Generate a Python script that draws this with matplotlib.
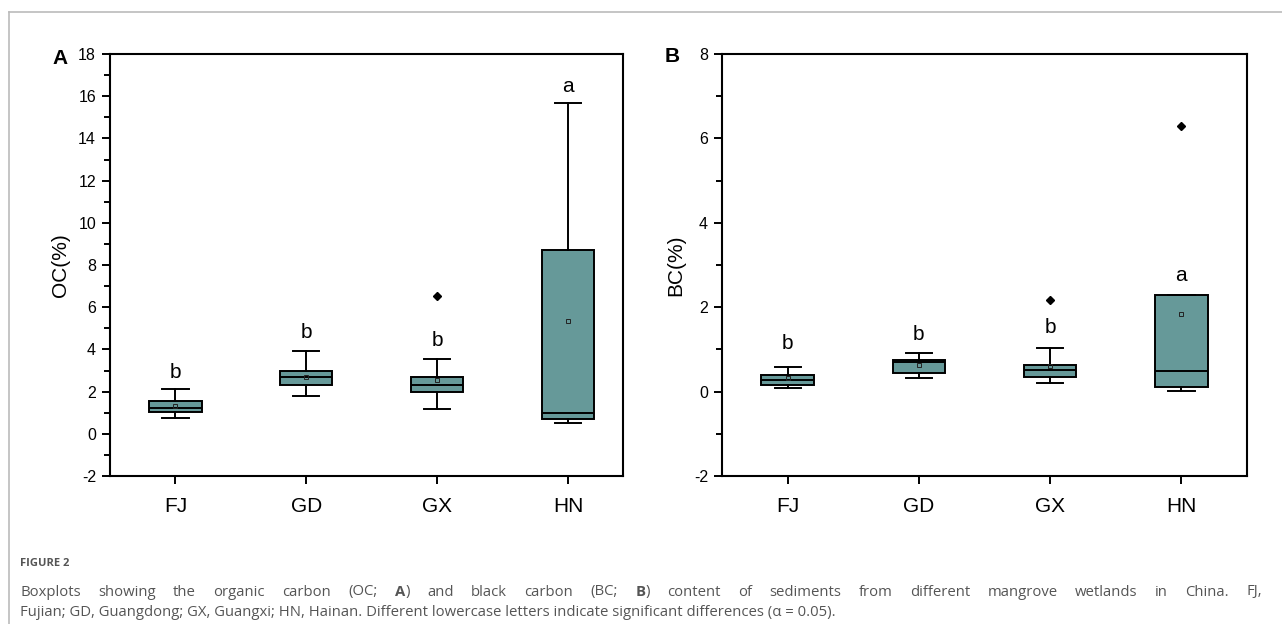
import matplotlib
matplotlib.use("Agg")
import matplotlib.pyplot as plt
from matplotlib.lines import Line2D

plt.rcParams['font.family'] = ['Liberation Sans', 'DejaVu Sans']
plt.rcParams['axes.unicode_minus'] = False  # o original usa hífen em "-2"

# dados
grupos = ['FJ', 'GD', 'GX', 'HN']
cor_caixa = '#669999'

# OC (%) - painel A
oc_min = [0.76, 1.78, 1.18, 0.52]
oc_q1 = [1.04, 2.33, 1.96, 0.71]
oc_med = [1.23, 2.68, 2.30, 0.99]
oc_q3 = [1.55, 2.98, 2.67, 8.69]
oc_max = [2.11, 3.93, 3.56, 15.68]
oc_media = [1.32, 2.70, 2.54, 5.35]
oc_outliers = [[], [], [6.53], []]
oc_letras = ['b', 'b', 'b', 'a']
oc_letras_y = [2.9, 4.8, 4.4, 16.45]

# BC (%) - painel B
bc_min = [0.08, 0.32, 0.20, 0.02]
bc_q1 = [0.16, 0.45, 0.35, 0.10]
bc_med = [0.27, 0.69, 0.52, 0.48]
bc_q3 = [0.40, 0.76, 0.62, 2.28]
bc_max = [0.59, 0.92, 1.03, 2.28]
bc_media = [0.32, 0.62, 0.60, 1.83]
bc_outliers = [[], [], [2.17], [6.29]]
bc_letras = ['b', 'b', 'b', 'a']
bc_letras_y = [1.14, 1.36, 1.51, 2.75]


def monta_stats(mn, q1, med, q3, mx, media, outl):
    stats = []
    for i in range(len(grupos)):
        stats.append(dict(whislo=mn[i], q1=q1[i], med=med[i], q3=q3[i],
                          whishi=mx[i], mean=media[i], fliers=outl[i]))
    return stats


def desenha(ax, stats, letras, letras_y, ylim, ylabel, xlim):
    ax.bxp(stats, positions=range(1, 5), widths=0.4, capwidths=0.2,
           showmeans=True, patch_artist=True,
           boxprops=dict(facecolor=cor_caixa, edgecolor='black', linewidth=1.4),
           medianprops=dict(color='black', linewidth=1.4),
           whiskerprops=dict(color='black', linewidth=1.4),
           capprops=dict(color='black', linewidth=1.4),
           meanprops=dict(marker='s', markersize=3.5, markerfacecolor='none',
                          markeredgecolor='#222222', markeredgewidth=0.7),
           flierprops=dict(marker='D', markersize=4, markerfacecolor='black',
                           markeredgecolor='black'))
    for i, (l, y) in enumerate(zip(letras, letras_y)):
        ax.text(i + 1, y, l, ha='center', va='center', fontsize=15)
    ax.set_xlim(*xlim)
    ax.set_ylim(*ylim)
    ax.set_xticks(range(1, 5))
    ax.set_xticklabels(grupos, fontsize=15)
    ax.set_yticks(range(ylim[0], ylim[1] + 1, 2))
    ax.set_yticks(range(ylim[0] + 1, ylim[1], 2), minor=True)
    ax.tick_params(axis='y', which='major', direction='out', length=6, width=1.4,
                   labelsize=11.5, pad=4)
    ax.tick_params(axis='y', which='minor', direction='out', length=4, width=1.4)
    ax.tick_params(axis='x', which='major', direction='out', length=6, width=1.4, pad=9)
    ax.set_ylabel(ylabel, fontsize=15, labelpad=6)
    for s in ax.spines.values():
        s.set_linewidth(1.5)


fig = plt.figure(figsize=(12.82, 6.24), dpi=100)
axA = fig.add_axes([110 / 1282, 148 / 624, 513 / 1282, 422 / 624])
axB = fig.add_axes([722 / 1282, 148 / 624, 525 / 1282, 422 / 624])

desenha(axA, monta_stats(oc_min, oc_q1, oc_med, oc_q3, oc_max, oc_media, oc_outliers),
        oc_letras, oc_letras_y, (-2, 18), 'OC(%)', (0.5, 4.42))
desenha(axB, monta_stats(bc_min, bc_q1, bc_med, bc_q3, bc_max, bc_media, bc_outliers),
        bc_letras, bc_letras_y, (-2, 8), 'BC(%)', (0.5, 4.5))

fig.text(60 / 1282, 1 - 59 / 624, 'A', fontsize=15, fontweight='bold', ha='center', va='center')
fig.text(672 / 1282, 1 - 57 / 624, 'B', fontsize=15, fontweight='bold', ha='center', va='center')

# moldura cinza da página
fig.add_artist(Line2D([9 / 1282, 1], [1 - 12 / 624, 1 - 12 / 624], color='#bbbbbb', lw=1.2))
fig.add_artist(Line2D([9 / 1282, 9 / 1282], [0, 1 - 12 / 624], color='#bbbbbb', lw=1.2))

# legenda da figura
cinza = '#555555'
fonte_leg = ['Open Sans', 'DejaVu Sans']
tam_leg = 10.7
fig.text(20 / 1282, 1 - 563 / 624, 'FIGURE 2', fontsize=8, color=cinza,
         family=fonte_leg, fontweight='bold', va='center')

# pedaços entre '|' ficam em negrito
linha1 = ('Boxplots showing the organic carbon (OC; |A|) and black carbon (BC; |B|) content of '
          'sediments from different mangrove wetlands in China. FJ,')
linha2 = ('Fujian; GD, Guangdong; GX, Guangxi; HN, Hainan. Different lowercase letters '
          'indicate significant differences (\u03b1 = 0.05).')

fig.canvas.draw()
renderer = fig.canvas.get_renderer()
W = fig.bbox.width


def largura(txt, peso):
    t = fig.text(0, 0, txt, fontsize=tam_leg, family=fonte_leg, fontweight=peso)
    w = t.get_window_extent(renderer).width
    t.remove()
    return w


def escreve_palavra(x, y, palavra):
    partes = palavra.split('|')
    for k, p in enumerate(partes):
        if not p:
            continue
        peso = 'bold' if k % 2 == 1 else 'normal'
        fig.text(x / W, y, p, fontsize=tam_leg, color=cinza, family=fonte_leg,
                 fontweight=peso, va='center')
        x += largura(p, peso)
    return x


def larg_palavra(palavra):
    partes = palavra.split('|')
    return sum(largura(p, 'bold' if k % 2 == 1 else 'normal') for k, p in enumerate(partes) if p)


# linha 1: justificada de 20 a 1262 px
palavras = linha1.split(' ')
larguras = [larg_palavra(p) for p in palavras]
espaco = (1262 - 20 - sum(larguras)) / (len(palavras) - 1)
x = 20
for p, w in zip(palavras, larguras):
    escreve_palavra(x, 1 - 592 / 624, p)
    x += w + espaco

# linha 2: normal
fig.text(20 / W, 1 - 612 / 624, linha2, fontsize=tam_leg, color=cinza, family=fonte_leg,
         va='center')

fig.savefig('out.png', dpi=100)
